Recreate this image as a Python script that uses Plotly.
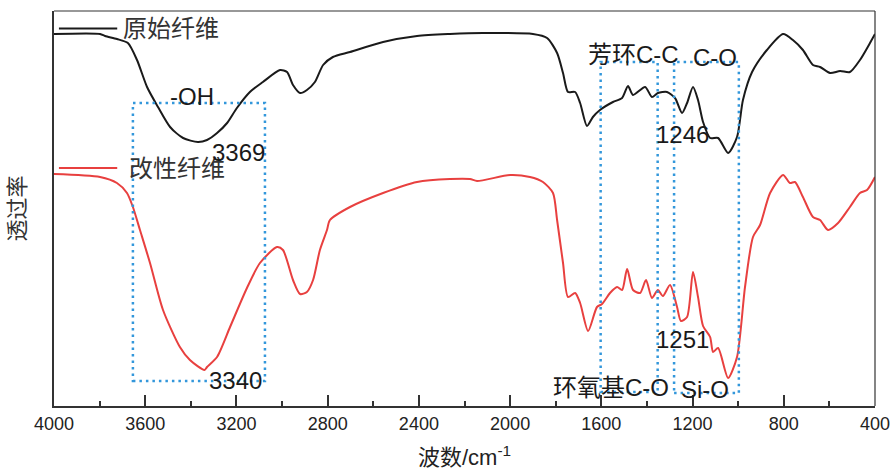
import plotly.graph_objects as go

# ---- data (wavenumber in cm-1, transmittance in arbitrary units) ----
wn_raw = [4000, 3798, 3776, 3724, 3676, 3636, 3592, 3544, 3491, 3434, 3369, 3329,
          3285, 3241, 3198, 3141, 3084, 3009, 2978, 2952, 2921, 2891, 2856, 2820,
          2777, 2702, 2557, 2408, 2264, 2119, 1900, 1838, 1794, 1768, 1746, 1715,
          1693, 1663, 1637, 1606, 1549, 1509, 1483, 1461, 1408, 1378, 1352, 1312,
          1277, 1246, 1224, 1198, 1176, 1154, 1123, 1088, 1044, 1005, 979, 939,
          874, 803, 760, 716, 672, 641, 597, 553, 510, 466, 422, 400]
t_raw = [372, 372, 370, 367, 363, 346, 319, 299, 279, 268, 264, 266,
         273, 283, 298, 314, 324, 336, 334, 321, 313, 316, 324, 341,
         349, 354, 364, 370, 372, 373, 372, 368, 353, 333, 314, 314,
         303, 280, 289, 296, 304, 308, 320, 311, 319, 309, 313, 314,
         308, 293, 303, 319, 306, 284, 268, 268, 253, 269, 306, 334,
         356, 372, 366, 356, 341, 339, 333, 335, 334, 346, 363, 372]

wn_mod = [4000, 3798, 3724, 3680, 3654, 3623, 3579, 3522, 3448, 3404, 3340, 3329,
          3285, 3228, 3154, 3097, 3022, 2996, 2952, 2921, 2891, 2864, 2834, 2803,
          2790, 2702, 2557, 2408, 2264, 2176, 2145, 2000, 1913, 1856, 1812, 1794,
          1768, 1746, 1715, 1693, 1658, 1619, 1597, 1562, 1531, 1509, 1487, 1461,
          1430, 1404, 1378, 1352, 1330, 1299, 1268, 1251, 1224, 1198, 1176, 1154,
          1123, 1110, 1088, 1044, 1005, 970, 935, 904, 860, 803, 773, 751,
          716, 672, 641, 606, 562, 510, 466, 435, 400]
t_mod = [232, 229, 223, 213, 199, 176, 143, 96, 59, 46, 36, 39,
         49, 79, 118, 143, 159, 156, 126, 112, 114, 126, 156, 176,
         186, 199, 213, 224, 227, 227, 225, 231, 229, 224, 213, 186,
         143, 109, 113, 103, 75, 99, 102, 113, 119, 116, 137, 116,
         113, 126, 108, 116, 110, 121, 99, 85, 89, 134, 109, 80,
         69, 54, 58, 28, 49, 119, 169, 181, 213, 231, 223, 224,
         209, 189, 186, 176, 183, 199, 213, 216, 229]

series_names = ["原始纤维", "改性纤维"]
series_colors = ["#1a1a1a", "#e8403f"]

x_ticks = [4000, 3600, 3200, 2800, 2400, 2000, 1600, 1200, 800, 400]
x_minor = [3800, 3400, 3000, 2600, 2200, 1800, 1400, 1000, 600]

# highlighted regions: (x0, x1, y0, y1)
box_x0 = [3654, 1603, 1281]
box_x1 = [3075, 1353, 997]
box_y0 = [25, 14, 13]
box_y1 = [303, 344, 344]

# labels: text, x, y
label_text = ["-OH", "3369", "3340", "芳环C-C", "C-O", "1246", "1251", "环氧基C-O", "Si-O"]
label_x = [3395, 3189, 3202, 1461, 1102, 1246, 1246, 1558, 1145]
label_y = [310, 254, 26, 352, 349, 272, 67, 19, 17]

FONT = "Liberation Sans, Arial, Noto Sans CJK SC, sans-serif"

fig = go.Figure()
fig.add_trace(go.Scatter(x=wn_raw, y=t_raw, mode="lines", name=series_names[0],
                         line=dict(color=series_colors[0], width=2, shape="spline", smoothing=0.7),
                         showlegend=False))
fig.add_trace(go.Scatter(x=wn_mod, y=t_mod, mode="lines", name=series_names[1],
                         line=dict(color=series_colors[1], width=2, shape="spline", smoothing=0.7),
                         showlegend=False))

shapes = []
for x0, x1, y0, y1 in zip(box_x0, box_x1, box_y0, box_y1):
    shapes.append(dict(type="rect", xref="x", yref="y", x0=x0, x1=x1, y0=y0, y1=y1,
                       line=dict(color="#3397db", width=2.5, dash="2.5px,4px"),
                       fillcolor="rgba(0,0,0,0)", layer="above"))
# frame top / right (thin)
shapes.append(dict(type="line", xref="paper", yref="paper", x0=0, x1=1, y0=1, y1=1,
                   line=dict(color="#333333", width=1.2)))
shapes.append(dict(type="line", xref="paper", yref="paper", x0=1, x1=1, y0=0, y1=1,
                   line=dict(color="#333333", width=1.2)))
# legend keys
legend_y = [0.956, 0.6025]
legend_text_x = [0.082, 0.089]
for i in range(2):
    shapes.append(dict(type="line", xref="paper", yref="paper", x0=0.006, x1=0.077,
                       y0=legend_y[i], y1=legend_y[i],
                       line=dict(color=series_colors[i], width=2)))

annotations = []
for i in range(2):
    annotations.append(dict(text=series_names[i], xref="paper", yref="paper",
                            x=legend_text_x[i], y=legend_y[i], xanchor="left", yanchor="middle",
                            showarrow=False, font=dict(size=24, color="#333333", family=FONT)))
for t, x, y in zip(label_text, label_x, label_y):
    annotations.append(dict(text=t, x=x, y=y, xref="x", yref="y", showarrow=False,
                            xanchor="center", yanchor="middle",
                            font=dict(size=24, color="#1a1a1a", family=FONT)))

fig.update_layout(
    width=894, height=470,
    margin=dict(l=54, r=19, t=11, b=64),
    paper_bgcolor="white", plot_bgcolor="white",
    font=dict(family=FONT, color="#222222", size=18),
    shapes=shapes, annotations=annotations,
    showlegend=False,
)
fig.update_xaxes(
    range=[4000, 400], tickvals=x_ticks, ticks="inside", ticklen=11, tickwidth=1.5,
    tickcolor="#333333", showline=True, linecolor="#333333", linewidth=2,
    showgrid=False, zeroline=False, tickfont=dict(size=18, color="#222222"),
    minor=dict(tickvals=x_minor, ticks="inside", ticklen=5, tickwidth=1.5,
               tickcolor="#333333", showgrid=False),
    title=dict(text="波数/cm<sup>-1</sup>", font=dict(size=22, color="#222222"), standoff=18),
    automargin=False,
)
fig.update_yaxes(
    range=[0, 395], showticklabels=False, ticks="", showline=True, linecolor="#333333",
    linewidth=2, showgrid=False, zeroline=False,
    title=dict(text="透过率", font=dict(size=22, color="#333333"), standoff=20),
    automargin=False,
)

fig.write_html("out.html")
